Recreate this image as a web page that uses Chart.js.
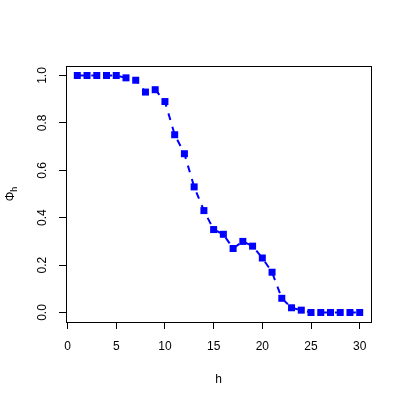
<!DOCTYPE html>
<html>
<head>
<meta charset="utf-8">
<script src="https://cdn.jsdelivr.net/npm/chart.js@4"></script>
<style>
html,body{margin:0;padding:0;background:#fff;}
canvas{display:block;}
</style>
</head>
<body>
<canvas id="c" width="405" height="405"></canvas>
<script>
const hValues = [1,2,3,4,5,6,7,8,9,10,11,12,13,14,15,16,17,18,19,20,21,22,23,24,25,26,27,28,29,30];
const phiValues = [1.00,1.00,1.00,1.00,1.00,0.99,0.98,0.93,0.94,0.89,0.75,0.67,0.53,0.43,0.35,0.33,0.27,0.30,0.28,0.23,0.17,0.06,0.02,0.01,0.00,0.00,0.00,0.00,0.00,0.00];
const xTicks = [0,5,10,15,20,25,30];
const yTicks = [0.0,0.2,0.4,0.6,0.8,1.0];

const FONT = "'Liberation Sans', Arial, Helvetica, sans-serif";

const boxPlugin = {
  id: 'box',
  afterDraw(chart) {
    const {ctx, chartArea: a} = chart;
    ctx.save();
    ctx.strokeStyle = '#000';
    ctx.lineWidth = 1;
    ctx.strokeRect(Math.round(a.left) + 0.5, Math.round(a.top) + 0.5,
                   Math.round(a.right - a.left), Math.round(a.bottom - a.top));
    // y axis title: Phi with subscript h, rotated
    const cy = (a.top + a.bottom) / 2;
    ctx.translate(14, cy);
    ctx.rotate(-Math.PI / 2);
    ctx.fillStyle = '#000';
    ctx.textBaseline = 'alphabetic';
    ctx.font = '12px ' + FONT;
    const w1 = ctx.measureText('\u03A6').width;
    ctx.font = '9px ' + FONT;
    const w2 = ctx.measureText('h').width;
    const start = -(w1 + w2) / 2;
    ctx.font = '12px ' + FONT;
    ctx.textAlign = 'left';
    ctx.fillText('\u03A6', start, 0);
    ctx.font = '9px ' + FONT;
    ctx.fillText('h', start + w1, 3);
    ctx.restore();
  }
};

new Chart(document.getElementById('c'), {
  type: 'line',
  data: {
    datasets: [{
      data: hValues.map((h, i) => ({x: h, y: phiValues[i]})),
      borderColor: '#0000FF',
      backgroundColor: '#0000FF',
      borderWidth: 2,
      borderDash: [7, 7],
      pointStyle: 'rect',
      pointRadius: 4.95,
      pointBorderWidth: 0,
      pointBackgroundColor: '#0000FF',
      tension: 0,
      fill: false
    }]
  },
  options: {
    responsive: false,
    animation: false,
    devicePixelRatio: 1,
    layout: {padding: {left: 0, top: 66, right: 34, bottom: 0}},
    plugins: {legend: {display: false}, tooltip: {enabled: false}},
    scales: {
      x: {
        type: 'linear',
        min: -0.16, max: 31.16,
        afterBuildTicks(s) { s.ticks = xTicks.map(v => ({value: v})); },
        afterFit(s) { s.height = 83; },
        grid: {display: true, drawOnChartArea: false, drawTicks: true, tickLength: 7, color: '#000', lineWidth: 1},
        border: {display: true, color: '#000', width: 1},
        ticks: {color: '#000', font: {family: FONT, size: 12}, padding: 10, maxRotation: 0, minRotation: 0,
                callback: v => String(v)},
        title: {display: true, text: 'h', color: '#000', font: {family: FONT, size: 12}, padding: {top: 0, bottom: 18}}
      },
      y: {
        type: 'linear',
        min: -0.04, max: 1.04,
        afterBuildTicks(s) { s.ticks = yTicks.map(v => ({value: v})); },
        afterFit(s) { s.width = 66; },
        grid: {display: true, drawOnChartArea: false, drawTicks: true, tickLength: 7, color: '#000', lineWidth: 1},
        border: {display: true, color: '#000', width: 1},
        ticks: {color: '#000', font: {family: FONT, size: 12}, padding: 8, minRotation: 90, maxRotation: 90,
                crossAlign: 'center', callback: v => Number(v).toFixed(1)}
      }
    }
  },
  plugins: [boxPlugin]
});
</script>
</body>
</html>
